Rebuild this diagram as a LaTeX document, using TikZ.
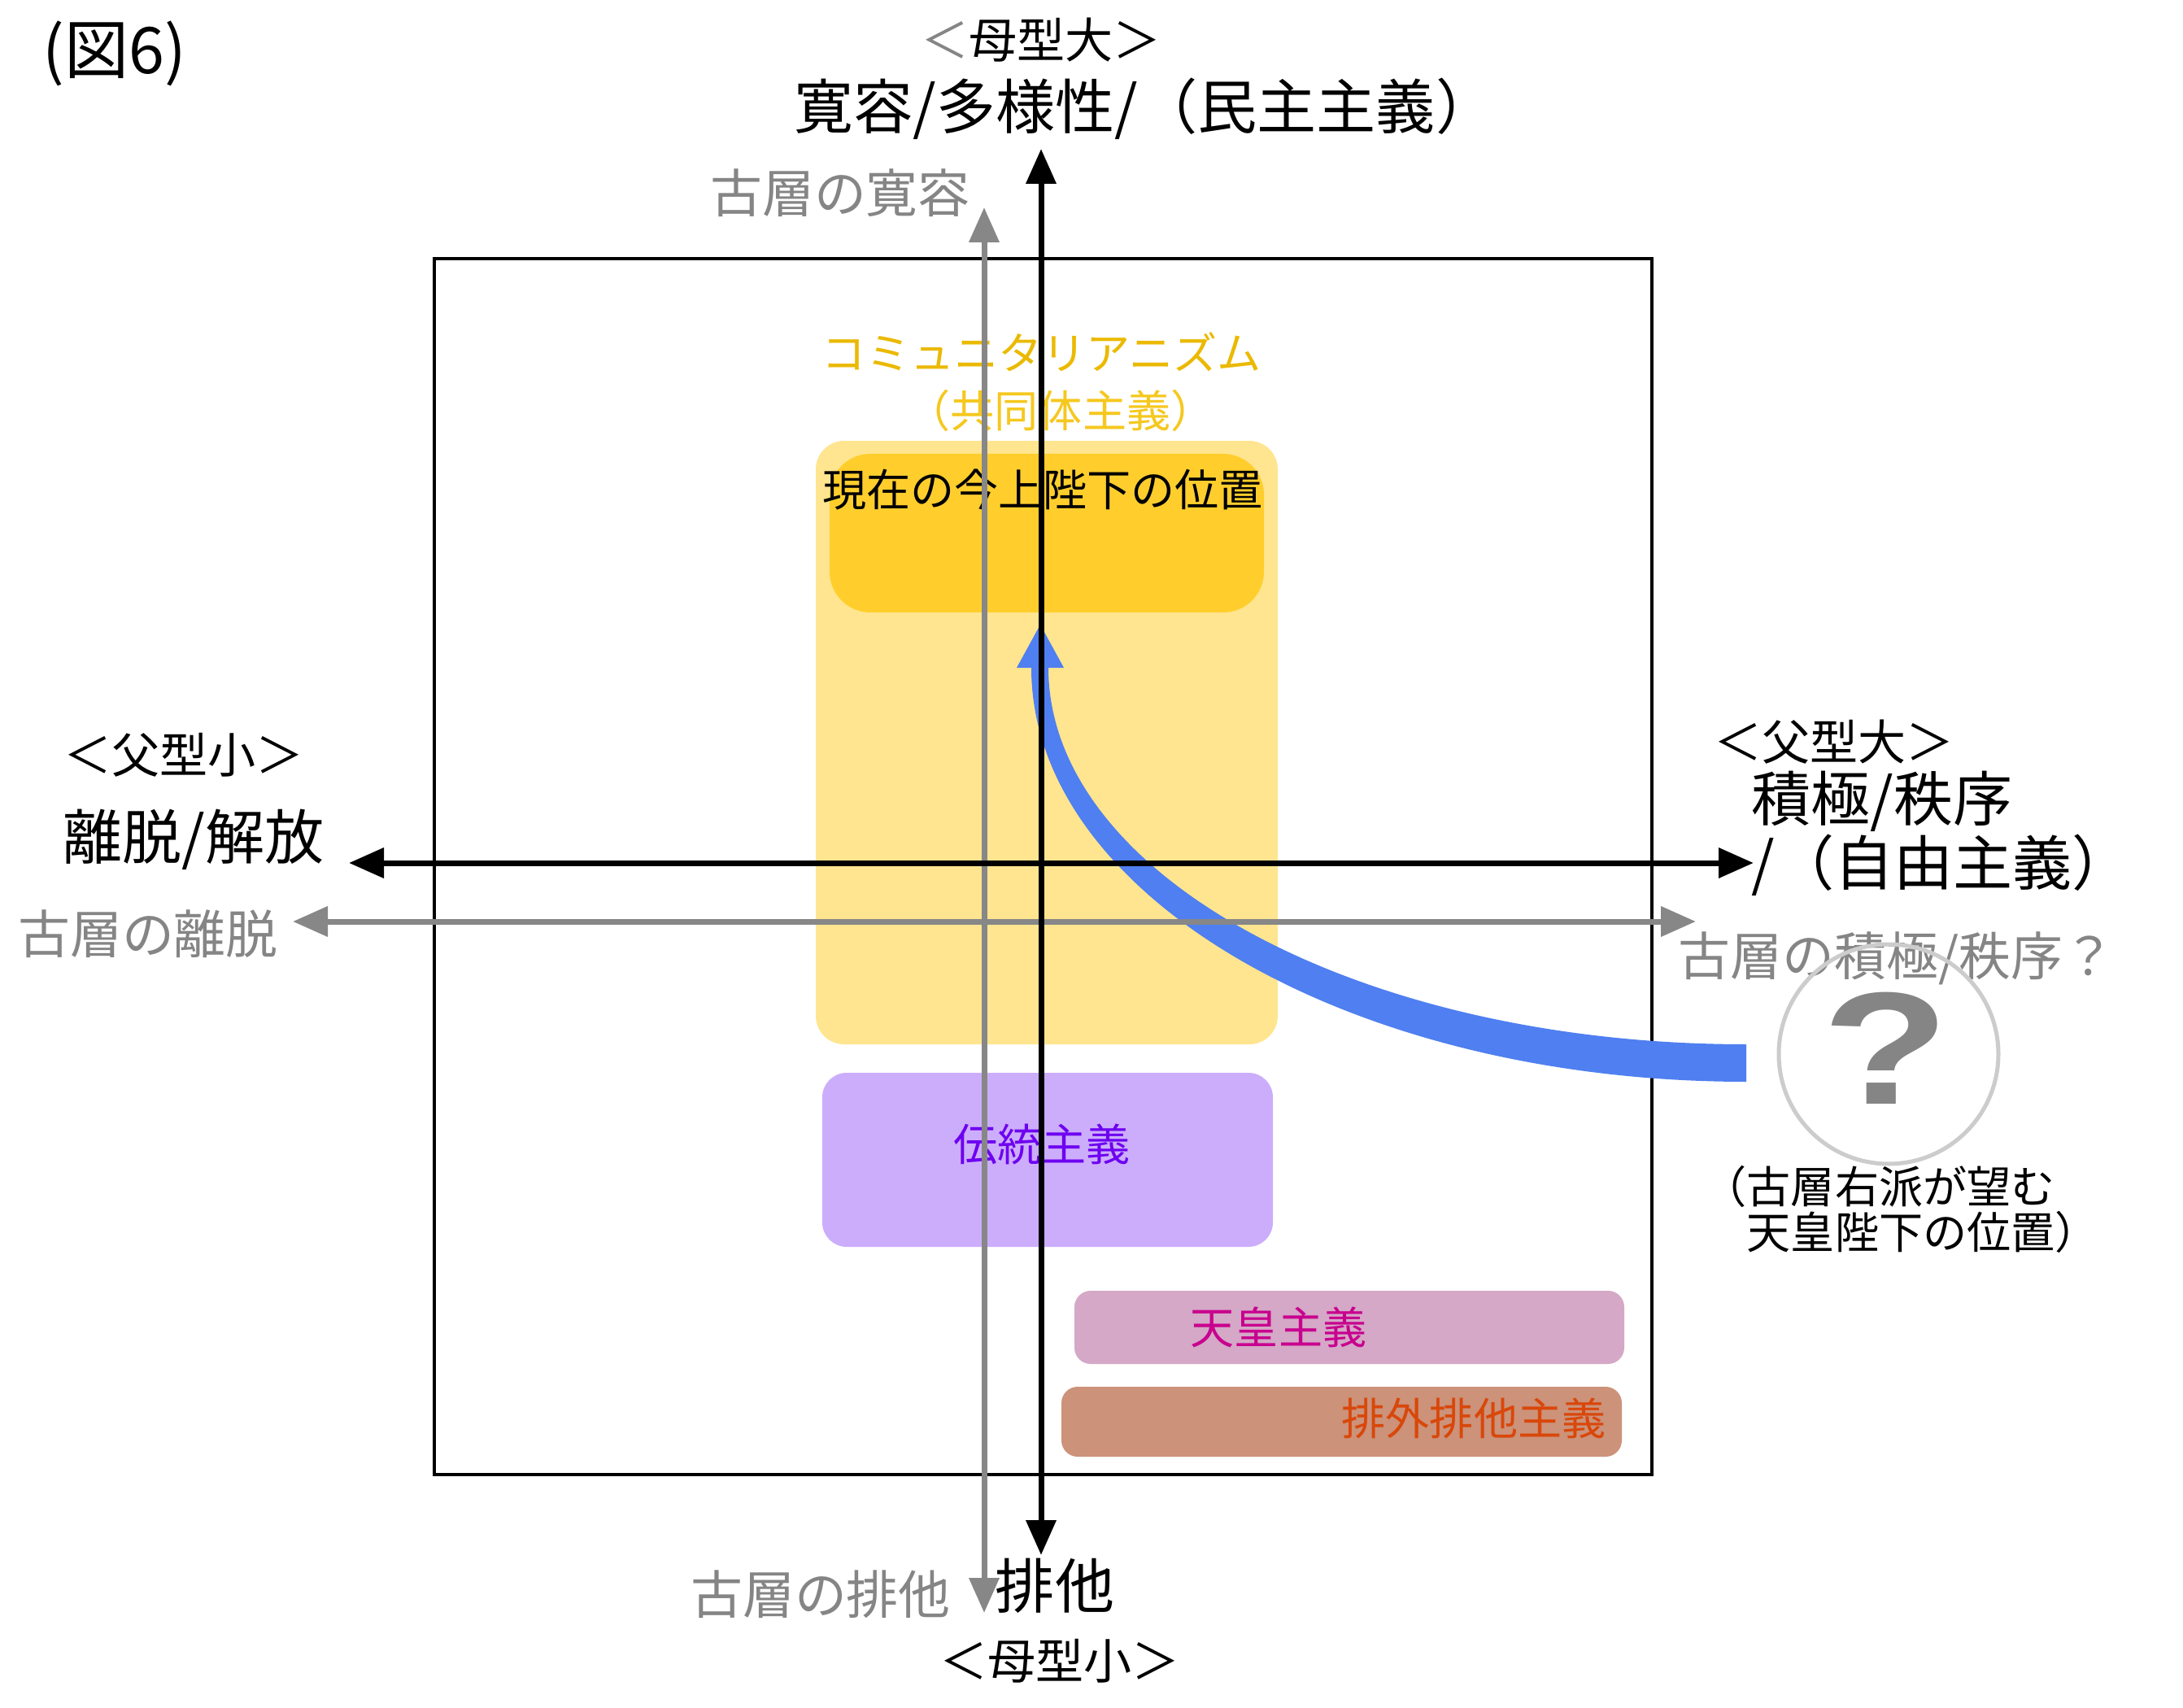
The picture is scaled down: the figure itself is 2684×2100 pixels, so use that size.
\documentclass[tikz,border=0pt]{standalone}
\usepackage{fontspec}
\setmainfont{Noto Sans CJK JP}
\newfontfamily\qmarkfont{Liberation Sans}
\usetikzlibrary{arrows.meta,positioning}
\definecolor{axisGray}{RGB}{135, 135, 135}
\definecolor{oldGray}{RGB}{133, 133, 133}
\definecolor{ringGray}{RGB}{204, 204, 204}
\definecolor{commLight}{RGB}{255, 229, 143}
\definecolor{nowYellow}{RGB}{255, 206, 44}
\definecolor{commText}{RGB}{235, 185, 0}
\definecolor{commTextLight}{RGB}{245, 200, 30}
\definecolor{tradFill}{RGB}{204, 173, 252}
\definecolor{tradText}{RGB}{110, 0, 240}
\definecolor{tennoFill}{RGB}{212, 168, 198}
\definecolor{tennoText}{RGB}{200, 0, 142}
\definecolor{haigaiFill}{RGB}{204, 146, 122}
\definecolor{haigaiText}{RGB}{217, 71, 10}
\definecolor{pushBlue}{RGB}{79, 127, 240}

\begin{document}
\begin{tikzpicture}[
  x=0.1mm, y=-0.1mm,
  area/.style={
    inner sep=0pt,
    rounded corners=3mm
  },
  lbl/.style={inner sep=0pt},
  polemain/.style={lbl,font=\fontsize{20.8pt}{21pt}\selectfont},
  polesub/.style={lbl,font=\fontsize{16.8pt}{17pt}\selectfont},
  oldlbl/.style={lbl,text=oldGray,font=\fontsize{18.2pt}{19pt}\selectfont},
  boxlbl/.style={lbl,font=\fontsize{15.4pt}{16pt}\selectfont},
  axis/.style={
    line width=0.7mm,
    {Triangle[length=4.3mm,width=3.6mm]}-{Triangle[length=4.3mm,width=3.6mm]}
  },
  oldaxis/.style={axis,draw=axisGray}
]
  \path[fill=white] (0,0) rectangle (2684,2100);
  \useasboundingbox (0,0) rectangle (2684,2100);

  % frame and areas
  \node[draw,line width=0.35mm,minimum width=149.7mm,minimum height=149.5mm,inner sep=0pt]
    (frame) at (1282.5,1065.5) {};
  \node[area,fill=commLight,minimum width=56.8mm,minimum height=74.2mm,rounded corners=3.5mm]
    (commbox) at (1287,913) {};
  \node[area,fill=nowYellow,minimum width=53.4mm,minimum height=19.5mm,rounded corners=5mm]
    (nowbox) at (1287,655.5) {};
  \node[area,fill=tradFill,minimum width=55.4mm,minimum height=21.4mm]
    (tradbox) at (1288,1426) {};
  \node[area,fill=tennoFill,minimum width=67.6mm,minimum height=9mm,rounded corners=2mm]
    (tennobox) at (1659,1632) {};
  \node[area,fill=haigaiFill,minimum width=68.9mm,minimum height=8.6mm,rounded corners=2mm]
    (haigaibox) at (1649.5,1748) {};

  % labels of the areas
  \node[boxlbl,text=commText] (commlbl) at (1281,433) {コミュニタリアニズム};
  \node[boxlbl,text=commTextLight] (commsub) at (1304,505) {（共同体主義）};
  \node[boxlbl] (nowlbl) at (1282,602) {現在の今上陛下の位置};
  \node[boxlbl,text=tradText] (tradlbl) at (1281,1407) {伝統主義};
  \node[boxlbl,text=tennoText] (tennolbl) at (1572,1632) {天皇主義};
  \node[boxlbl,text=haigaiText] (haigailbl) at (1812,1744) {排外排他主義};

  % the push towards the right
  \fill[pushBlue] (2147,1330) .. controls (1662,1330) and (1268,1102) .. (1268,821)
    -- (1250,821) -- (1279,768) -- (1308,821) -- (1289,821)
    .. controls (1289,1077) and (1673,1284) .. (2147,1284) -- cycle;

  % axes
  \coordinate (gtop) at (1210,255);
  \coordinate (gbot) at (1210,1983);
  \coordinate (gleft) at (360,1133);
  \coordinate (gright) at (2085,1133);
  \coordinate (ytop) at (1280,183);
  \coordinate (ybot) at (1280,1912);
  \coordinate (xleft) at (429,1061);
  \coordinate (xright) at (2156,1061);
  \draw[oldaxis] (gbot) -- (gtop);
  \draw[oldaxis] (gleft) -- (gright);
  \draw[axis] (ybot) -- (ytop);
  \draw[axis] (xleft) -- (xright);

  % pole labels
  \node[lbl,font=\fontsize{22.5pt}{23pt}\selectfont] (figno) at (141,66) {(図6)};
  \node[polesub] (motherhigh) at (1280,49) {\textcolor{oldGray}{＜}母型大＞};
  \node[polemain,anchor=west] (toplbl) at (976,134) {寛容/多様性/（民主主義）};
  \node[oldlbl] (oldtop) at (1033,237) {古層の寛容};
  \node[polesub] (fatherlow) at (226,928) {＜父型小＞};
  \node[polemain] (leftlbl) at (238,1032) {離脱/解放};
  \node[oldlbl] (oldleft) at (182,1148) {古層の離脱};
  \node[polesub] (fatherhigh) at (2255,912) {＜父型大＞};
  \node[polemain,align=left,anchor=west,font=\fontsize{20.8pt}{21.05pt}\selectfont]
    (rightlbl) at (2153,1025) {積極/秩序\\/（自由主義）};
  \node[oldlbl,anchor=west] (oldright) at (2063,1178) {古層の積極/秩序？};
  \node[polemain] (botlbl) at (1297,1950) {排他};
  \node[oldlbl] (oldbot) at (1009,1960) {古層の排他};
  \node[polesub] (motherlow) at (1303,2042) {＜母型小＞};

  % the open question
  \node[circle,draw=ringGray,line width=0.5mm,minimum size=27mm,inner sep=0pt]
    (qring) at (2322,1296) {};
  \node[lbl,text=oldGray,font=\qmarkfont\bfseries\fontsize{56pt}{56pt}\selectfont]
    (qmark) at (2319,1289) {\scalebox{1.3}[1]{?}};
  \node[boxlbl,align=left,anchor=west,font=\fontsize{15.4pt}{15.9pt}\selectfont]
    (qlbl) at (2093,1487) {（古層右派が望む\\\hspace*{1em}天皇陛下の位置）};
\end{tikzpicture}
\end{document}
